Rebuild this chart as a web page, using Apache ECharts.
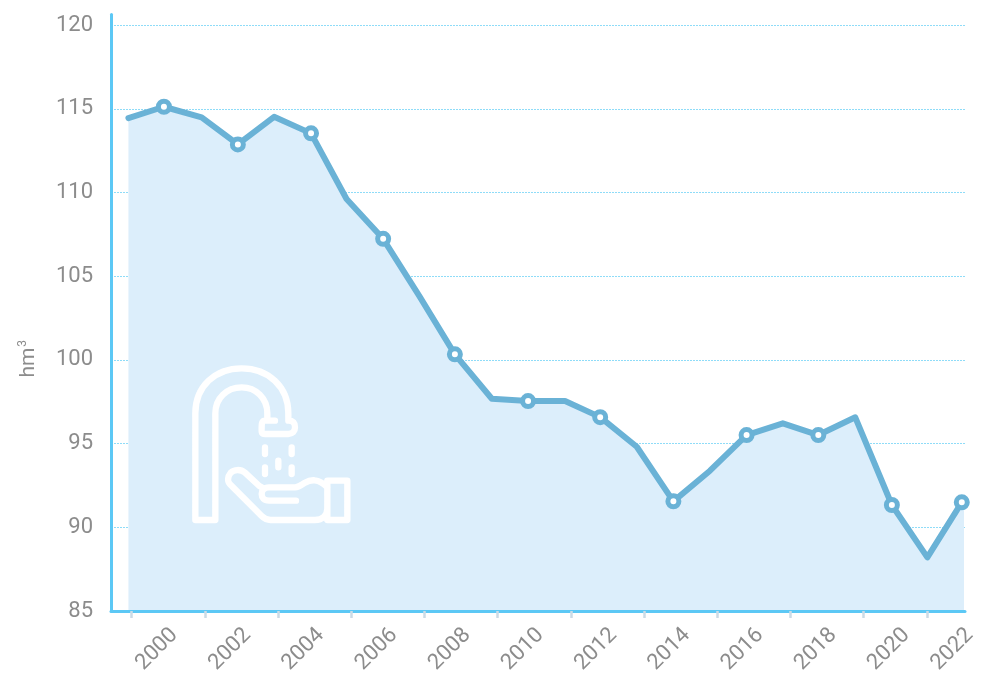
<!DOCTYPE html>
<html>
<head>
<meta charset="utf-8">
<style>html,body{margin:0;padding:0;background:#fff}#c{width:984px;height:675px}</style>
<script src="https://cdn.jsdelivr.net/npm/echarts@6/dist/echarts.min.js"></script>
</head>
<body>
<div id="c"></div>
<script>
const pointYears = [1999.91,2000.88,2001.91,2002.90,2003.89,2004.90,2005.87,2006.87,2007.86,2008.83,2009.84,2010.83,2011.84,2012.80,2013.80,2014.80,2015.80,2016.80,2017.79,2018.76,2019.77,2020.77,2021.74,2022.68];
const pointValues = [114.44,115.12,114.49,112.87,114.52,113.53,109.61,107.23,103.81,100.33,97.68,97.54,97.54,96.58,94.81,91.55,93.38,95.51,96.21,95.51,96.57,91.33,88.20,91.49];
const areaEndYear = 2022.74;
const areaEndValue = 91.03;
const tickYears = [2000,2002,2004,2006,2008,2010,2012,2014,2016,2018,2020,2021.73];
const tickLabels = ['2000','2002','2004','2006','2008','2010','2012','2014','2016','2018','2020','2022'];
const yTicks = [85,90,95,100,105,110,115,120];

const FONT = 'Roboto';
const LABEL = '#8c8c8c';
const LINE = '#6ab2d6';
const AXIS = '#5cc8f5';

const tapPath = 'M76 510 L76 190 C76 110 135 55 215 55 C295 55 355 110 355 190 L355 212 ' +
  'C372 212 375 222 375 232 C375 244 368 252 355 252 L285 252 C272 252 275 244 275 232 ' +
  'C275 222 275 212 285 212 L315 212 ' +
  'M292 212 L292 190 C292 145 258 112 215 112 C170 112 136 145 136 190 L136 510 L76 510 ' +
  'M285 292 L285 312 M365 292 L365 312 M325 332 L325 352 M285 352 L285 372 M365 352 L365 372 ' +
  'M378 452 L297 452 C282 452 275 444 275 432 C275 420 282 412 297 412 L375 412 C385 412 395 405 405 398 C415 392 425 390 435 391 C450 392 462 402 472 412 ' +
  'M275 412 L268 408 L225 368 C212 357 192 358 182 368 C172 380 172 395 180 403 L275 498 C283 506 292 510 302 510 L435 510 C458 510 472 495 472 475 L472 412 ' +
  'M472 392 L532 392 L532 510 L472 510 L472 392';

const chart = echarts.init(document.getElementById('c'), null, {renderer: 'canvas'});
chart.setOption({
  animation: false,
  backgroundColor: '#fff',
  grid: {left: 111, right: 19, top: 14.5, bottom: 64, outerBoundsMode: 'none'},
  xAxis: {
    type: 'value',
    z: 2,
    min: 1999.434,
    max: 2022.768,
    splitLine: {show: false},
    axisLine: {show: true, onZero: false, lineStyle: {color: AXIS, width: 3}},
    axisTick: {show: true, customValues: tickYears, length: 7, lineStyle: {color: '#ccdbe6', width: 2.5}},
    axisLabel: {
      show: true,
      customValues: tickYears,
      formatter: v => tickLabels[tickYears.indexOf(v)],
      rotate: 45,
      align: 'left',
      verticalAlign: 'top',
      margin: 48,
      hideOverlap: false,
      fontFamily: FONT,
      fontSize: 22,
      color: LABEL
    }
  },
  yAxis: {
    type: 'value',
    min: 85,
    max: 120.63,
    name: '{a|hm}{b|3}',
    nameLocation: 'middle',
    nameGap: 72,
    nameRotate: 90,
    nameTextStyle: {
      fontFamily: FONT,
      color: LABEL,
      padding: [0, 92, 0, 0],
      rich: {
        a: {fontFamily: FONT, fontSize: 21, color: LABEL, verticalAlign: 'bottom'},
        b: {fontFamily: FONT, fontSize: 12, color: LABEL, verticalAlign: 'top', padding: [0, 0, 10, 1]}
      }
    },
    axisLine: {show: true, onZero: false, lineStyle: {color: AXIS, width: 3}},
    axisTick: {show: false, customValues: yTicks},
    axisLabel: {customValues: yTicks, margin: 18, fontFamily: FONT, fontSize: 22, color: LABEL},
    splitLine: {show: true, lineStyle: {color: '#8fdcf8', width: 1, type: [2, 1]}}
  },
  series: [
    {
      type: 'line',
      z: 1,
      symbol: 'none',
      silent: true,
      lineStyle: {width: 0},
      areaStyle: {color: '#dceefb', opacity: 1},
      data: pointYears.map((x, i) => [x, pointValues[i]]).concat([[areaEndYear, areaEndValue]])
    },
    {
      type: 'custom',
      z: 3,
      silent: true,
      clip: false,
      data: [[2005, 95]],
      renderItem: () => ({
        type: 'path',
        x: 170, y: 350, scaleX: 1 / 3, scaleY: 1 / 3,
        shape: {pathData: tapPath},
        style: {fill: null, stroke: '#ffffff', lineWidth: 19, lineCap: 'round', lineJoin: 'round'}
      })
    },
    {
      type: 'line',
      z: 5,
      showAllSymbol: true,
      symbol: (v, p) => (p.dataIndex % 2 === 1 ? 'circle' : 'none'),
      symbolSize: 11,
      itemStyle: {color: '#ffffff', borderColor: LINE, borderWidth: 5},
      lineStyle: {color: LINE, width: 6, cap: 'round', join: 'round'},
      data: pointYears.map((x, i) => [x, pointValues[i]])
    }
  ]
});
</script>
</body>
</html>
